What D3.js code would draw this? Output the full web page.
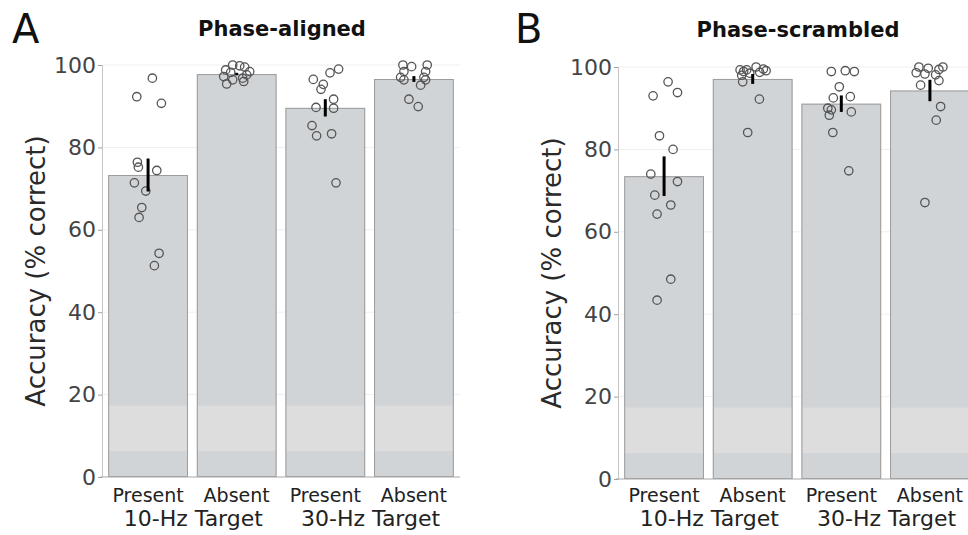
<!DOCTYPE html>
<meta charset="utf-8">
<style>
body { margin: 0; background: #fff; }
text { font-family: "DejaVu Sans", sans-serif; }
.tick text { font-size: 22px; fill: #444; }
</style>
<body>
<script src="https://cdn.jsdelivr.net/npm/d3@7"></script>
<script>
// conditions on the x axis
var categories = ["Present", "Absent", "Present", "Absent"];
var groupLabels = ["10-Hz Target", "30-Hz Target"];
var yTicks = [0, 20, 40, 60, 80, 100];
// lighter band drawn inside every bar (% correct)
var chanceBand = [6.3, 17.3];

// A: phase-aligned
var alignedMeans = [73.3, 97.8, 89.6, 96.6];
var alignedSem = [4.0, 0.3, 2.1, 0.7];
var alignedPoints = [
  [96.8, 92.3, 90.7, 76.4, 75.2, 74.4, 71.4, 69.4, 65.4, 63.0, 54.3, 51.3],
  [100, 99.8, 99.5, 98.8, 98.4, 98.2, 97.6, 97.2, 96.8, 96.4, 96.0, 95.4],
  [99.0, 98.1, 96.5, 95.3, 94.1, 91.7, 89.7, 89.5, 85.3, 82.8, 83.3, 71.4],
  [100, 99.6, 100, 98.4, 98.4, 97.0, 96.4, 97.0, 96.4, 95.1, 91.7, 89.9]
];
// horizontal jitter of each subject, in px from the bar centre
var alignedJitter = [
  [4.3, -11.3, 13.3, -10.7, -9.7, 8.7, -13.7, -2.3, -6.3, -9, 11, 6.3],
  [-4, 3, 8, -11, 13, -6, 10, -13, 6, -4, 7, -10],
  [13.3, 4.7, -12, -2, -4.3, 8.3, -9.3, 8.3, -13.3, -8.7, 6.3, 10.7],
  [-11, -2.3, 13.3, -10, 11.7, -13.3, -10, 10, 11.7, 6.7, -5, 4.3]
];

// B: phase-scrambled
var scrambledMeans = [73.5, 97.1, 91.1, 94.3];
var scrambledSem = [4.8, 1.2, 2.0, 2.6];
var scrambledPoints = [
  [96.4, 93.0, 93.8, 83.3, 80.0, 74.0, 72.2, 68.9, 66.5, 64.3, 48.5, 43.4],
  [99.3, 99.3, 100, 99.5, 99.1, 98.9, 98.7, 98.5, 98.0, 96.4, 92.2, 84.1],
  [98.9, 99.1, 98.9, 95.2, 92.5, 92.8, 90.0, 89.6, 88.3, 89.1, 84.1, 74.8],
  [100, 99.7, 100, 98.6, 98.3, 99.4, 98.1, 96.7, 95.6, 90.4, 87.1, 67.1]
];
var scrambledJitter = [
  [4, -11, 13.4, -4.6, 9, -13.3, 13.4, -9.3, 6.7, -7, 6.7, -7],
  [-12.6, -6, 3.4, 10.7, 13.4, -9, 7, -3, -11, -10, 6.7, -5],
  [-10, 4, 13, -2, -8, 9, -13.5, -10, -12, 10, -8.5, 7.5],
  [-11, -1.7, 13, -13.7, -5, 9, 5.7, 9, -9.3, 10.7, 6.3, -5]
];

var svg = d3.select("body").append("svg").attr("width", 968).attr("height", 535);

function drawPanel(cfg) {
  var g = svg.append("g");
  var x = d3.scaleBand().domain(d3.range(categories.length))
    .range([cfg.x0, cfg.x0 + 358]).paddingInner(0.1).paddingOuter(0.07);
  var y = d3.scaleLinear().domain([0, 100]).range([cfg.y0, cfg.y0 - 412]);
  var bw = x.bandwidth();

  // faint grid
  g.selectAll(".grid").data(yTicks.slice(1)).join("line")
    .attr("x1", cfg.x0).attr("x2", cfg.x0 + 358)
    .attr("y1", d => y(d)).attr("y2", d => y(d))
    .attr("stroke", "#efefef").attr("stroke-width", 1);

  // bars
  g.selectAll(".bar").data(cfg.means).join("rect")
    .attr("x", (d, i) => x(i)).attr("y", d => y(d))
    .attr("width", bw).attr("height", d => y(0) - y(d))
    .attr("fill", "#d1d4d7");
  g.selectAll(".band").data(cfg.means).join("rect")
    .attr("x", (d, i) => x(i)).attr("y", y(chanceBand[1]))
    .attr("width", bw).attr("height", y(chanceBand[0]) - y(chanceBand[1]))
    .attr("fill", "#dddddd");
  g.selectAll(".outline").data(cfg.means).join("rect")
    .attr("x", (d, i) => x(i) + 0.5).attr("y", d => y(d) + 0.5)
    .attr("width", bw - 1).attr("height", d => y(0) - y(d) - 1)
    .attr("fill", "none").attr("stroke", "#9c9c9c").attr("stroke-width", 1);

  // y axis
  var ax = g.append("g").attr("transform", "translate(" + cfg.x0 + ",0)")
    .call(d3.axisLeft(y).tickValues(yTicks).tickSize(4).tickPadding(2));
  ax.select(".domain").attr("stroke", "#c4c4c4");
  ax.selectAll(".tick line").attr("stroke", "#a0a0a0");

  // baseline
  g.append("line").attr("x1", cfg.x0 - 2).attr("x2", cfg.x0 + 358)
    .attr("y1", y(0)).attr("y2", y(0)).attr("stroke", "#a8a8a8");

  // subjects
  cfg.points.forEach(function(vals, i) {
    g.selectAll(".pt" + i).data(vals).join("circle")
      .attr("cx", (d, j) => x(i) + bw / 2 + cfg.jitter[i][j])
      .attr("cy", d => y(d)).attr("r", 4.2)
      .attr("fill", "none").attr("stroke", "#555").attr("stroke-width", 1.3);
  });

  // error bars
  g.selectAll(".err").data(cfg.means).join("line")
    .attr("x1", (d, i) => x(i) + bw / 2).attr("x2", (d, i) => x(i) + bw / 2)
    .attr("y1", (d, i) => y(d - cfg.sem[i])).attr("y2", (d, i) => y(d + cfg.sem[i]))
    .attr("stroke", "#000").attr("stroke-width", 3);

  // category labels
  g.selectAll(".cat").data(categories).join("text")
    .attr("x", (d, i) => x(i) + bw / 2).attr("y", 502)
    .attr("text-anchor", "middle").attr("font-size", 19).attr("fill", "#222")
    .text(d => d);
  g.selectAll(".grp").data(groupLabels).join("text")
    .attr("x", (d, i) => (x(2 * i) + x(2 * i + 1) + bw) / 2 + 1).attr("y", 526)
    .attr("text-anchor", "middle").attr("font-size", 22).attr("fill", "#222")
    .text(d => d);

  // y label
  g.append("text")
    .attr("transform", "translate(" + (cfg.x0 - 57) + "," + (cfg.y0 - 206) + ") rotate(-90)")
    .attr("text-anchor", "middle").attr("font-size", 26).attr("fill", "#2a2a2a")
    .text("Accuracy (% correct)");

  // title and panel letter
  g.append("text").attr("x", cfg.x0 + 180).attr("y", cfg.titleY)
    .attr("text-anchor", "middle").attr("font-size", 21).attr("font-weight", "bold")
    .attr("fill", "#111").text(cfg.title);
  g.append("text").attr("x", cfg.letterX).attr("y", 43)
    .attr("font-size", 40).attr("fill", "#111").text(cfg.letter);
}

drawPanel({x0: 102, y0: 477, title: "Phase-aligned", titleY: 36, letter: "A", letterX: 12,
  means: alignedMeans, sem: alignedSem, points: alignedPoints, jitter: alignedJitter});
drawPanel({x0: 618, y0: 479, title: "Phase-scrambled", titleY: 37, letter: "B", letterX: 515,
  means: scrambledMeans, sem: scrambledSem, points: scrambledPoints, jitter: scrambledJitter});
</script>
</body>
</html>
